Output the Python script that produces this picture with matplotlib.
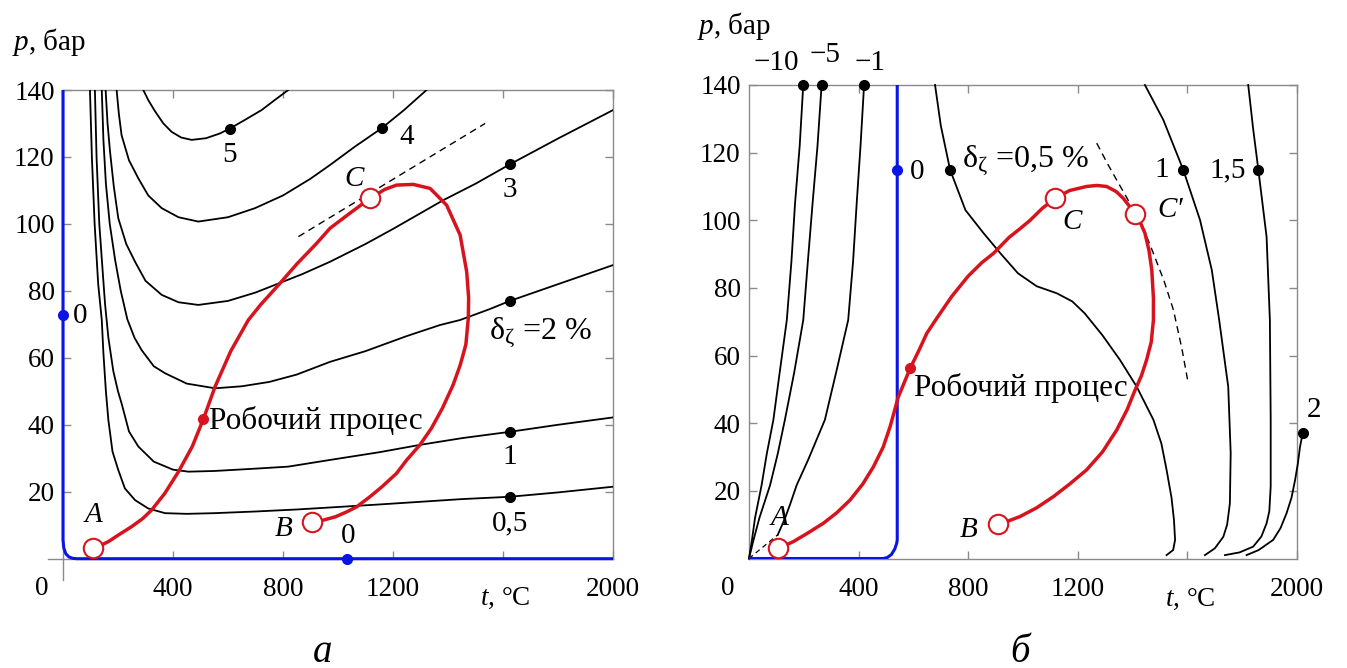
import matplotlib
matplotlib.use('Agg')
import matplotlib.pyplot as plt

plt.rcParams['font.family'] = ['Liberation Serif', 'DejaVu Serif']
plt.rcParams['mathtext.fontset'] = 'custom'
plt.rcParams['mathtext.rm'] = 'Liberation Serif'
plt.rcParams['mathtext.it'] = 'Liberation Serif:italic'

# ---------------- data: panel a ----------------
L05_t = [98, 105, 115, 128, 141, 147, 156, 165, 180, 201, 225, 262, 310, 371, 450, 550, 700, 850, 971, 1150, 1300, 1450, 1625, 1800, 2000]
L05_p = [140, 120, 100, 82, 71.3, 61.3, 50, 41.4, 32, 26.5, 21, 17.5, 15, 13.6, 13.4, 13.6, 14.1, 14.7, 15.3, 16.2, 17, 17.8, 18.5, 19.8, 21.5]
L1_t = [116, 122, 132, 145, 153, 165, 183, 200, 213, 240, 274, 330, 400, 456, 550, 700, 819, 971, 1150, 1298, 1450, 1625, 1800, 2000]
L1_p = [140, 120, 100, 85, 76, 66, 56, 50, 46.4, 38, 33.5, 29, 26.6, 26, 26.2, 26.9, 27.5, 29.5, 31.8, 34, 36, 37.9, 40, 42.2]
L2_t = [141, 147, 156, 170, 190, 210, 234, 260, 286, 330, 371, 450, 553, 650, 750, 850, 971, 1100, 1250, 1371, 1444, 1550, 1625, 1800, 2000]
L2_p = [140, 125, 112, 100, 89, 80, 71.5, 66, 62.3, 57.5, 55.4, 52.3, 50.9, 51.5, 52.8, 55, 58.8, 62, 66.5, 69.8, 71.3, 74.5, 77, 82, 87.7]
L3_t = [155, 162, 171, 185, 201, 230, 262, 300, 359, 420, 492, 600, 700, 771, 870, 971, 1100, 1200, 1383, 1500, 1625, 1800, 2000]
L3_p = [140, 130, 121.6, 111, 101.7, 94, 88.7, 83, 78.8, 76.6, 75.8, 77, 79.5, 81.8, 85, 88.7, 94, 98.5, 107.1, 112, 117.8, 125.5, 134]
L4_t = [195, 203, 213, 240, 274, 310, 359, 420, 492, 600, 698, 800, 900, 971, 1060, 1159, 1240, 1322]
L4_p = [140, 133, 126.5, 119, 113.6, 108.5, 104.7, 102, 100.7, 102, 104.7, 108.5, 113.5, 117.6, 123, 128.6, 134, 140]
L5_t = [292, 310, 335, 365, 395, 430, 468, 520, 570, 607, 660, 722, 770, 819]
L5_p = [140, 137, 133.6, 130, 127.5, 125.8, 125.1, 125.6, 127, 128.5, 131, 134, 137, 140]
L_curves = [(L05_t, L05_p), (L1_t, L1_p), (L2_t, L2_p), (L3_t, L3_p), (L4_t, L4_p), (L5_t, L5_p)]
L_dots_t = [1625, 1625, 1625, 1625, 1159, 607]
L_dots_p = [18.5, 37.9, 77, 117.8, 128.6, 128.5]
L_labels = ['0,5', '1', '3', '4', '5']
L_label_t = [1625, 1625, 1625, 1250, 607]
L_label_p = [10.5, 30.5, 110, 126, 120.5]

L_dash_t = [856, 1535]
L_dash_p = [96.2, 130]

RL_t = [110, 140, 165, 200, 250, 290, 322, 370, 420, 470, 510, 553, 610, 674, 720, 783, 850, 920, 971, 1040, 1116, 1170, 1213, 1274,
        1335, 1395, 1444, 1468, 1475, 1474, 1465, 1445, 1419, 1380, 1340, 1298, 1250, 1213, 1160, 1116, 1068, 1032, 990, 950, 906]
RL_p = [3.3, 4.1, 5.1, 7.0, 9.6, 12.0, 14.5, 19.5, 26.0, 33.5, 41.6, 51.4, 62.0, 71.3, 76.0, 81.7, 88.0, 94.0, 98.7, 103.0, 107.6, 110.3, 111.6, 111.8,
        110.6, 105.6, 96.7, 85.7, 78.0, 72.0, 64.0, 58.0, 52.0, 45.0, 39.0, 34.0, 29.5, 25.5, 21.5, 18.5, 15.5, 14.0, 12.5, 11.6, 10.9]
L_pts_t = [110, 906, 1116]
L_pts_p = [3.3, 10.9, 107.6]
L_work_t, L_work_p = 510, 41.6

L_blue_t = [0, 0, 3, 10, 22, 36, 50, 2000]
L_blue_p = [140, 5.6, 3.2, 1.5, 0.5, 0.1, 0, 0]

# ---------------- data: panel б ----------------
Rm10_t = [0, 10, 22, 46, 65, 89, 112, 138, 155, 168, 185, 198]
Rm10_p = [0, 5, 12, 21.7, 31, 41, 55, 70.5, 88, 105, 122, 140]
Rm5_t = [0, 15, 38, 77, 105, 131, 165, 198, 215, 232, 250, 265]
Rm5_p = [0, 5, 12, 21.7, 31, 41, 55, 70.5, 88, 105, 122, 140]
Rm1_t = [105, 131, 150, 174, 216, 277, 320, 362, 380, 393, 407, 420]
Rm1_p = [7, 11.8, 16, 21.7, 29.2, 41, 55.7, 70.5, 88, 105, 122, 140]
Rm1d_t = [0, 105]
Rm1d_p = [0, 7]
R05_t = [679, 700, 734, 790, 856, 920, 982, 1050, 1124, 1180, 1225, 1290, 1354, 1415, 1476, 1505, 1524, 1542, 1551, 1555, 1548, 1524]
R05_p = [140, 128, 114.9, 103, 96.2, 90, 84.3, 80.5, 78.4, 76, 72.5, 66, 58.7, 50.8, 41, 34, 26.2, 18, 11.4, 5.5, 2.5, 1]
R1_t = [1445, 1512, 1550, 1585, 1646, 1689, 1716, 1749, 1758, 1755, 1745, 1731, 1700, 1664]
R1_p = [140, 129.7, 122, 114.9, 100.1, 85.3, 70.5, 50.8, 31.1, 16.3, 10, 6.4, 3, 1]
R15_t = [1822, 1840, 1859, 1889, 1901, 1904, 1904, 1899, 1889, 1870, 1840, 1790, 1737]
R15_p = [140, 127, 114.9, 95.1, 70.5, 41, 21.3, 14, 10.4, 6.5, 3.5, 1.8, 1]
R2_t = [1816, 1860, 1913, 1940, 1962, 1980, 1993, 2003, 2011, 2021]
R2_p = [1, 2.5, 5.5, 9, 13.4, 18, 23.2, 28, 33, 37.2]
R_curves = [(Rm10_t, Rm10_p), (Rm5_t, Rm5_p), (Rm1_t, Rm1_p), (R05_t, R05_p), (R1_t, R1_p), (R15_t, R15_p), (R2_t, R2_p)]
R_dots_t = [198, 265, 420, 734, 1585, 1859, 2021]
R_dots_p = [140, 140, 140, 114.9, 114.9, 114.9, 37.2]
R_labels = ['\u221210', '\u22125', '\u22121', '1', '1,5', '2']
R_label_t = [100, 277, 441, 1505, 1748, 2063]
R_label_p = [146.5, 149, 146.5, 114.9, 114.9, 44]

R_dash_t = [1269, 1310, 1342, 1380, 1409, 1445, 1476, 1515, 1549, 1580, 1603]
R_dash_p = [122.8, 116.5, 111.9, 106.5, 102, 96.5, 90.2, 82, 73.5, 62, 51.8]

RR_t = [107, 135, 162, 210, 271, 320, 369, 415, 454, 490, 515, 545, 588, 620, 649, 685, 740, 800, 850, 892, 950, 989, 1026, 1070,
        1117, 1170, 1232, 1270, 1305, 1340, 1366, 1390, 1409, 1430, 1445, 1460, 1470, 1476, 1476, 1468, 1451, 1432, 1409, 1380,
        1342, 1290, 1232, 1170, 1111, 1050, 989, 950, 910]
RR_p = [3.2, 4, 5, 7.3, 10.4, 13.5, 17.3, 22, 27.1, 33, 39, 47.8, 56.2, 61.5, 66.6, 71, 77.5, 83.5, 87.5, 90.2, 95, 97.5, 100, 103.5,
        106.5, 108.8, 110, 110.3, 110, 108.5, 106.5, 104, 101.9, 99, 96.2, 91, 85.3, 77, 70.5, 64, 58.7, 54, 49.8, 44,
        38, 31.5, 26.2, 22, 18.3, 15, 12.4, 11.2, 10.2]
R_pts_t = [107, 910, 1117, 1409]
R_pts_p = [3.2, 10.2, 106.5, 101.9]
R_work_t, R_work_p = 588, 56.2

R_blue_t = [0, 490, 505, 520, 532, 539, 541, 541]
R_blue_p = [0, 0, 0.3, 1.2, 2.8, 4.5, 5.5, 140]

xticks = [400, 800, 1200, 1600, 2000]
xticklabels = ['400', '800', '1200', '', '2000']
yticks = [20, 40, 60, 80, 100, 120, 140]

BLUE = '#0a14e6'
RED = '#d7141e'
GRAY = '#8a8a8a'
FS = 19.5
FT = 21

W, H = 1347, 668
fig = plt.figure(figsize=(W / 100, H / 100), dpi=100)
axL = fig.add_axes([63 / W, 1 - 558.7 / H, 550 / W, (558.7 - 90) / H])
axR = fig.add_axes([749 / W, 1 - 558.5 / H, 548 / W, (558.5 - 85) / H])


def style(ax):
    ax.set_xlim(0, 2000)
    ax.set_ylim(0, 140)
    for s in ax.spines.values():
        s.set_color(GRAY)
        s.set_linewidth(1.0)
    ax.set_xticks(xticks, labels=xticklabels)
    ax.set_yticks(yticks, labels=[str(v) for v in yticks])
    ax.tick_params(axis='both', direction='in', length=6, width=1.0, color=GRAY,
                   top=True, right=True, labelsize=FS)
    ax.tick_params(axis='x', pad=13)
    ax.tick_params(axis='y', pad=6)
    ax.text(-78, -9, '0', fontsize=FS, ha='center', va='center', clip_on=False)
    ax.text(1610, -12, r'$t$, °C', fontsize=FS, ha='center', va='center', clip_on=False)


style(axL)
style(axR)

# ---- panel a ----
ax = axL
ax.plot([-56, 0], [0, 0], color=GRAY, lw=1.0, clip_on=False)
ax.plot([0, 0], [-6.3, 0], color=GRAY, lw=1.0, clip_on=False)
for t, p in L_curves:
    ax.plot(t, p, color='black', lw=1.3, zorder=3)
ax.plot(L_dots_t, L_dots_p, 'o', color='black', ms=7, zorder=5)
for s, t, p in zip(L_labels, L_label_t, L_label_p):
    ax.text(t, p, s, fontsize=FT, ha='center', va='center', zorder=6)
ax.text(1738, 67.5, 'δ$_{\\mathrm{ζ}}$ =2 %', fontsize=23, ha='center', va='center')
ax.plot(L_dash_t, L_dash_p, color='black', lw=1.0, ls=(0, (5, 3.5)), zorder=3)
ax.plot(L_blue_t, L_blue_p, color=BLUE, lw=2.2, zorder=4, clip_on=False, solid_capstyle='butt')
ax.plot([0], [72.8], 'o', color=BLUE, ms=7, zorder=6, clip_on=False)
ax.plot([1034], [0], 'o', color=BLUE, ms=7, zorder=6, clip_on=False)
ax.text(62, 72.5, '0', fontsize=FT, ha='center', va='center')
ax.text(1037, 6.8, '0', fontsize=FT, ha='center', va='center')
ax.plot(RL_t, RL_p, color=RED, lw=2.5, zorder=7)
ax.plot(L_pts_t, L_pts_p, 'o', mfc='white', mec=RED, mew=1.5, ms=14, zorder=8)
ax.plot([L_work_t], [L_work_p], 'o', color=RED, ms=7, zorder=8)
ax.text(532, 41, 'Робочий процес', fontsize=22.5, ha='left', va='center', zorder=9)
ax.text(110, 13, 'A', fontsize=FT, style='italic', ha='center', va='center')
ax.text(803, 9, 'B', fontsize=FT, style='italic', ha='center', va='center')
ax.text(1060, 113.5, 'C', fontsize=FT, style='italic', ha='center', va='center')

# ---- panel б ----
ax = axR
for t, p in R_curves:
    ax.plot(t, p, color='black', lw=1.3, zorder=3, clip_on=False)
ax.plot(Rm1d_t, Rm1d_p, color='black', lw=0.9, ls=(0, (4, 3)), zorder=3)
ax.plot(R_dots_t, R_dots_p, 'o', color='black', ms=7, zorder=5, clip_on=False)
for s, t, p in zip(R_labels, R_label_t, R_label_p):
    ax.text(t, p, s, fontsize=FT, ha='center', va='center', zorder=6, clip_on=False)
ax.text(1010, 117.5, 'δ$_{\\mathrm{ζ}}$ =0,5 %', fontsize=23, ha='center', va='center')
ax.plot(R_dash_t, R_dash_p, color='black', lw=1.0, ls=(0, (5, 3.5)), zorder=3)
ax.plot(R_blue_t, R_blue_p, color=BLUE, lw=2.2, zorder=4, solid_capstyle='butt')
ax.plot([539], [114.9], 'o', color=BLUE, ms=7, zorder=6)
ax.text(612, 114.2, '0', fontsize=FT, ha='center', va='center')
ax.plot(RR_t, RR_p, color=RED, lw=2.5, zorder=7)
ax.plot(R_pts_t, R_pts_p, 'o', mfc='white', mec=RED, mew=1.5, ms=14, zorder=8)
ax.plot([R_work_t], [R_work_p], 'o', color=RED, ms=7, zorder=8)
ax.text(603, 50.5, 'Робочий процес', fontsize=22.5, ha='left', va='center', zorder=9)
ax.text(113, 12, 'A', fontsize=FT, style='italic', ha='center', va='center')
ax.text(803, 8.5, 'B', fontsize=FT, style='italic', ha='center', va='center')
ax.text(1178, 99.5, 'C', fontsize=FT, style='italic', ha='center', va='center')
ax.text(1538, 103, 'C\u2032', fontsize=FT, style='italic', ha='center', va='center')

# axis titles and panel letters
fig.text(12 / W, 1 - 42 / H, r'$p$, бар', fontsize=FT, ha='left', va='center')
fig.text(697 / W, 1 - 26 / H, r'$p$, бар', fontsize=FT, ha='left', va='center')
fig.text(323 / W, 1 - 652 / H, 'а', fontsize=28, style='italic', ha='center', va='center')
fig.text(1020 / W, 1 - 652 / H, 'б', fontsize=28, style='italic', ha='center', va='center')

fig.savefig('out.png', dpi=100)
